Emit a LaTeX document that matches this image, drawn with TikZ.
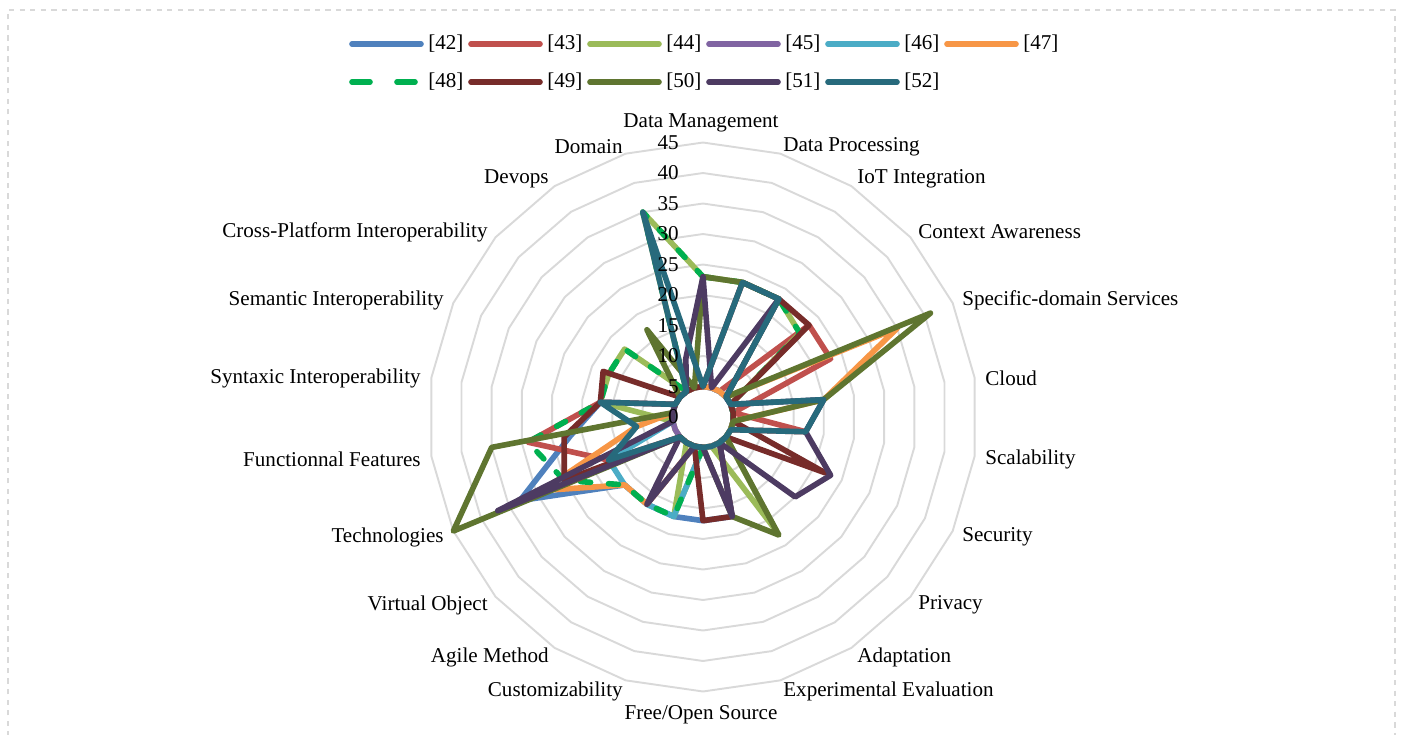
\documentclass[tikz,border=0pt]{standalone}
\usepackage{fontspec}
\setmainfont{Liberation Serif}
\usepackage{tikz}
\usetikzlibrary{positioning}

\definecolor{gridgray}{HTML}{D9D9D9}
\definecolor{c42}{HTML}{4F81BD}
\definecolor{c43}{HTML}{C0504D}
\definecolor{c44}{HTML}{9BBB59}
\definecolor{c45}{HTML}{8064A2}
\definecolor{c46}{HTML}{4BACC6}
\definecolor{c47}{HTML}{F79646}
\definecolor{c48}{HTML}{00B050}
\definecolor{c49}{HTML}{772C2A}
\definecolor{c50}{HTML}{5F7530}
\definecolor{c51}{HTML}{4D3B62}
\definecolor{c52}{HTML}{276A7C}

\def\radunit{0.122}
% one closed polygon over the 22 axes
\newcommand{\radarline}[3]{%
  \foreach \v [count=\k from 0] in {#3}
    \coordinate (#1-\k) at ({90-\k*360/22}:{\v*\radunit});
  \draw[#2] (#1-0) \foreach \k in {1,...,21} { -- (#1-\k) } -- cycle;
}

\begin{document}
\begin{tikzpicture}[
    ring/.style={draw=gridgray, line width=1.1pt},
    serie/.style={draw=#1, line width=3.2pt, line join=round, line cap=round},
    greendash/.style={serie=c48, dash pattern=on 0.2cm off 0.36cm},
    legdash/.style={serie=c48, dash pattern=on 0.36cm off 0.54cm},
    lbl/.style={font=\fontsize{12}{14}\selectfont, inner sep=0pt}]

  \useasboundingbox (-14.06,-6.34) rectangle (13.96,8.34);
  \draw[gridgray, dashed, line width=0.6pt] (-13.9,-6.6) -- (-13.9,8.14) -- (13.84,8.14) -- (13.84,-6.6);

  % rings
  \foreach \r in {5,10,...,45}
    \draw[ring] (90:\r*\radunit) \foreach \k in {1,...,21} { -- ({90-\k*360/22}:\r*\radunit) } -- cycle;

  % axis labels
  \foreach \k/\px/\py/\anc/\txt in {
      0/-0.04/5.89/center/{Data Management},
      1/1.60/5.41/west/{Data Processing},
      2/3.08/4.76/west/{IoT Integration},
      3/4.30/3.70/west/{Context Awareness},
      4/5.18/2.34/west/{Specific-domain Services},
      5/5.64/0.78/west/{Cloud},
      6/5.64/-0.84/west/{Scalability},
      7/5.18/-2.40/west/{Security},
      8/4.30/-3.76/west/{Privacy},
      9/3.08/-4.80/west/{Adaptation},
      10/1.60/-5.48/west/{Experimental Evaluation},
      11/-0.04/-5.96/center/{Free/Open Source},
      12/-1.60/-5.48/east/{Customizability},
      13/-3.08/-4.80/east/{Agile Method},
      14/-4.30/-3.76/east/{Virtual Object},
      15/-5.18/-2.40/east/{Technologies},
      16/-5.64/-0.84/east/{Functionnal Features},
      17/-5.64/0.78/east/{Syntaxic Interoperability},
      18/-5.18/2.34/east/{Semantic Interoperability},
      19/-4.30/3.70/east/{Cross-Platform Interoperability},
      20/-3.08/4.76/east/{Devops},
      21/-1.60/5.41/east/{Domain}}
    \node[lbl, anchor=\anc] (axis\k) at (\px,\py) {\txt};

  % series
  \radarline{s42}{serie=c42}{5,5,5,5,5,5,5,5,5,5,17,17,17,17,17,33,22,17,5,5,5,5}
  \radarline{s43}{serie=c43}{5,5,5,23,23,5,17,5,5,5,5,5,5,5,5,17,29,17,5,5,5,5}
  \radarline{s44}{serie=c44}{23,23,23,21,5,5,5,5,5,22,5,5,17,5,5,5,5,17,17,17,5,35}
  \radarline{s45}{serie=c45}{5,5,5,5,5,5,5,5,5,5,5,5,5,5,5,5,5,5,5,5,5,5}
  \radarline{s46}{serie=c46}{5,5,5,5,5,5,5,5,5,5,5,5,17,17,17,17,5,5,5,5,5,5}
  \radarline{s47}{serie=c47}{5,5,5,5,35,20,5,5,5,5,5,5,5,17,17,29,11,5,5,5,5,5}
  \radarline{s48}{greendash}{23,23,23,21,5,5,5,5,5,5,5,5,17,17,17,25,29,17,17,17,5,35}
  \radarline{s49}{serie=c49}{5,23,23,23,5,5,5,22,5,5,17,17,5,5,5,25,23,17,18,5,5,5}
  \radarline{s50}{serie=c50}{23,23,23,5,41,20,5,5,5,23,17,5,5,5,5,45,35,5,5,5,17,5}
  \radarline{s51}{serie=c51}{23,5,23,5,5,20,17,23,20,5,17,5,5,17,5,37,5,5,5,5,5,10}
  \radarline{s52}{serie=c52}{5,23,23,5,5,20,17,5,5,5,5,5,5,5,5,17,11,17,5,5,5,35}

  % tick labels, on top of the lines
  \foreach \r in {0,5,...,45}
    \node[lbl, anchor=east] (tick\r) at (-0.48,\r*\radunit) {\r};

  % legend
  \foreach \s [count=\i from 0] in {42,...,47} {
    \coordinate (legA\s) at (-7.02+\i*2.38,7.46);
    \node[lbl, anchor=west] (leg\s) at (-5.50+\i*2.38,7.46) {[\s]};
    \draw[serie=c\s, shorten >=0.14cm] (legA\s) -- (leg\s.west);
  }
  \foreach \s [count=\i from 0] in {48,...,52} {
    \coordinate (legA\s) at (-7.02+\i*2.38,6.70);
    \node[lbl, anchor=west] (leg\s) at (-5.50+\i*2.38,6.70) {[\s]};
  }
  \draw[legdash, shorten >=0.14cm] (legA48) -- (leg48.west);
  \foreach \s in {49,...,52}
    \draw[serie=c\s, shorten >=0.14cm] (legA\s) -- (leg\s.west);
\end{tikzpicture}
\end{document}
